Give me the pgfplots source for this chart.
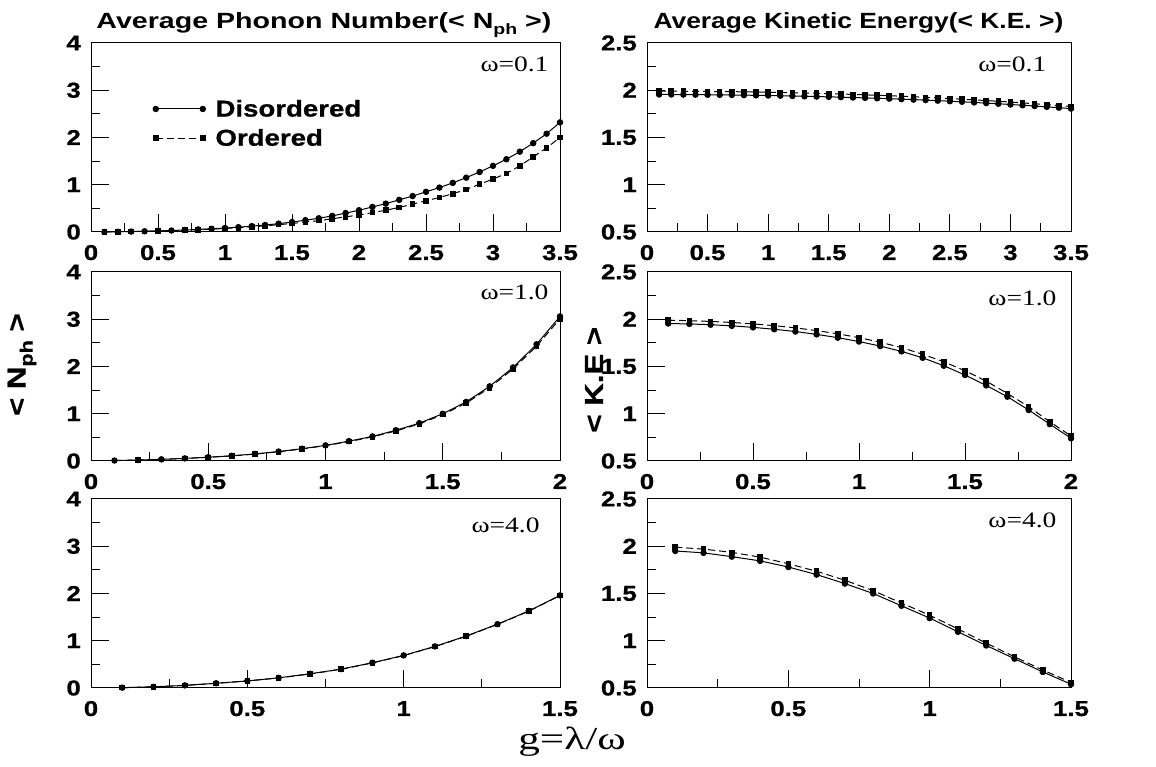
\documentclass[border=0pt]{standalone}
\usepackage{fontspec}
\usepackage{pgfplots}
\pgfplotsset{compat=1.18}
\newfontfamily\hv{Liberation Sans}[FakeStretch=1.2, BoldFeatures={FakeBold=0.8}]
\newfontfamily\hvt{Liberation Sans}[FakeStretch=1.3]
\newfontfamily\hvr{Liberation Sans}[FakeStretch=1.2]
\newfontfamily\tm{Liberation Serif}[FakeStretch=1.25]
\newfontfamily\tmx{Liberation Serif}[FakeStretch=1.35]

\pgfplotsset{
  panel/.style={
    scale only axis, width=#1, height=189pt, anchor=south west, clip=false,
    axis line style={line width=1pt},
    tick align=inside, xtick pos=bottom, ytick pos=left,
    major tick length=18pt, minor tick length=9pt,
    every tick/.style={black, line width=1pt},
    minor tick num=1, xmin=0,
    /pgf/number format/assume math mode=true,
    ticklabel style={font=\hv\bfseries\fontsize{21.5}{21.5}\selectfont, inner sep=0pt},
    xticklabel style={anchor=base, yshift=-28pt},
    yticklabel style={anchor=east, xshift=-10pt},
  },
  nleft/.style={ymin=0, ymax=4, ytick={0,1,2,3,4}},
  keright/.style={ymin=0.5, ymax=2.5, ytick={0.5,1,1.5,2,2.5}},
  dis/.style={black, line width=1pt, mark=*, mark size=2.7pt},
  ord/.style={black, line width=1pt, dash pattern=on 7pt off 4pt, mark=square*, mark size=2.3pt, mark options={solid}},
}
\newcommand{\omlab}[3]{\node[anchor=base east, font=\tm\fontsize{22}{22}\selectfont] at (rel axis cs:#1,#2) {#3};}

\begin{document}
\begin{tikzpicture}
\useasboundingbox (0,0) rectangle (1156pt,767pt);

% ---- top left: <N_ph>, omega=0.1
\begin{axis}[panel=469pt, nleft, at={(91pt,535pt)}, xmax=3.5, xtick={0,0.5,...,3.5},
  legend style={at={(rel axis cs:0.132,0.70)}, anchor=north west, draw=none, fill=none,
    inner sep=0pt, font=\hv\bfseries\fontsize{23}{23}\selectfont, row sep=11pt,
    nodes={inner sep=0pt}, column sep=10pt},
  legend cell align=left,
  legend image code/.code={\draw[#1] plot coordinates {(0pt,0pt) (47pt,0pt)};}]
\addplot[dis] coordinates {
(0.1,0.001) (0.2,0.004) (0.3,0.009) (0.4,0.015) (0.5,0.022) (0.6,0.031) (0.7,0.042)
(0.8,0.054) (0.9,0.068) (1.0,0.084) (1.1,0.102) (1.2,0.124) (1.3,0.148) (1.4,0.176)
(1.5,0.21) (1.6,0.25) (1.7,0.29) (1.8,0.34) (1.9,0.40) (2.0,0.46) (2.1,0.53)
(2.2,0.60) (2.3,0.68) (2.4,0.76) (2.5,0.85) (2.6,0.94) (2.7,1.04) (2.8,1.15)
(2.9,1.27) (3.0,1.40) (3.1,1.54) (3.2,1.70) (3.3,1.88) (3.4,2.08) (3.5,2.32)};
\addlegendentry{Disordered}
\addplot[ord] coordinates {
(0.1,0.001) (0.2,0.004) (0.3,0.008) (0.4,0.013) (0.5,0.020) (0.6,0.028) (0.7,0.037)
(0.8,0.048) (0.9,0.060) (1.0,0.075) (1.1,0.09) (1.2,0.11) (1.3,0.13) (1.4,0.155)
(1.5,0.18) (1.6,0.21) (1.7,0.24) (1.8,0.28) (1.9,0.32) (2.0,0.36) (2.1,0.41)
(2.2,0.46) (2.3,0.52) (2.4,0.59) (2.5,0.66) (2.6,0.73) (2.7,0.81) (2.8,0.90)
(2.9,1.01) (3.0,1.12) (3.1,1.24) (3.2,1.40) (3.3,1.59) (3.4,1.78) (3.5,2.00)};
\addlegendentry{Ordered}
\omlab{0.983}{0.847}{ω=0.1}
\node[anchor=base west, font=\hvt\bfseries\fontsize{22}{22}\selectfont] at (rel axis cs:0.004,1.079)
  {Average Phonon Number(< N\raisebox{-6pt}{\fontsize{15}{15}\selectfont ph} >)};
\end{axis}

% ---- top right: <K.E.>, omega=0.1
\begin{axis}[panel=424pt, keright, at={(647pt,535pt)}, xmax=3.5, xtick={0,0.5,...,3.5}]
\addplot[dis] coordinates {
(0.1,1.955) (0.2,1.955) (0.3,1.954) (0.4,1.953) (0.5,1.952) (0.6,1.951) (0.7,1.950)
(0.8,1.948) (0.9,1.946) (1.0,1.944) (1.1,1.942) (1.2,1.939) (1.3,1.936) (1.4,1.933)
(1.5,1.930) (1.6,1.927) (1.7,1.923) (1.8,1.919) (1.9,1.915) (2.0,1.911) (2.1,1.906)
(2.2,1.901) (2.3,1.896) (2.4,1.890) (2.5,1.884) (2.6,1.878) (2.7,1.871) (2.8,1.864)
(2.9,1.857) (3.0,1.849) (3.1,1.841) (3.2,1.833) (3.3,1.824) (3.4,1.815) (3.5,1.806)};
\addplot[ord] coordinates {
(0.1,1.990) (0.2,1.990) (0.3,1.989) (0.4,1.988) (0.5,1.987) (0.6,1.986) (0.7,1.985)
(0.8,1.983) (0.9,1.981) (1.0,1.979) (1.1,1.977) (1.2,1.974) (1.3,1.971) (1.4,1.968)
(1.5,1.964) (1.6,1.960) (1.7,1.956) (1.8,1.951) (1.9,1.947) (2.0,1.942) (2.1,1.937)
(2.2,1.931) (2.3,1.925) (2.4,1.919) (2.5,1.912) (2.6,1.905) (2.7,1.898) (2.8,1.891)
(2.9,1.883) (3.0,1.875) (3.1,1.866) (3.2,1.857) (3.3,1.848) (3.4,1.838) (3.5,1.828)};
\omlab{0.95}{0.847}{ω=0.1}
\node[anchor=base west, font=\hvr\bfseries\fontsize{22}{22}\selectfont] at (rel axis cs:0.007,1.079)
  {Average Kinetic Energy(< K.E. >)};
\end{axis}

% ---- middle left: omega=1.0
\begin{axis}[panel=469pt, nleft, at={(91pt,306pt)}, xmax=2, xtick={0,0.5,...,2}]
\addplot[dis] coordinates {
(0.1,0.01) (0.2,0.02) (0.3,0.035) (0.4,0.055) (0.5,0.08) (0.6,0.11) (0.7,0.15)
(0.8,0.20) (0.9,0.26) (1.0,0.33) (1.1,0.42) (1.2,0.52) (1.3,0.65) (1.4,0.80)
(1.5,1.00) (1.6,1.25) (1.7,1.58) (1.8,1.98) (1.9,2.47) (2.0,3.06)};
\addplot[ord] coordinates {
(0.1,0.01) (0.2,0.02) (0.3,0.034) (0.4,0.053) (0.5,0.078) (0.6,0.107) (0.7,0.145)
(0.8,0.195) (0.9,0.255) (1.0,0.325) (1.1,0.41) (1.2,0.51) (1.3,0.635) (1.4,0.785)
(1.5,0.98) (1.6,1.225) (1.7,1.55) (1.8,1.95) (1.9,2.43) (2.0,3.01)};
\omlab{0.983}{0.852}{ω=1.0}
\node[rotate=90, font=\hv\bfseries\fontsize{26}{26}\selectfont] at (rel axis cs:-0.147,0.51)
  {< N\raisebox{-7pt}{\fontsize{18}{18}\selectfont ph} >};
\end{axis}

% ---- middle right: omega=1.0
\begin{axis}[panel=424pt, keright, at={(647pt,306pt)}, xmax=2, xtick={0,0.5,...,2}]
\addplot[dis] coordinates {
(0.1,1.955) (0.2,1.950) (0.3,1.942) (0.4,1.930) (0.5,1.914) (0.6,1.894) (0.7,1.870)
(0.8,1.840) (0.9,1.805) (1.0,1.764) (1.1,1.716) (1.2,1.660) (1.3,1.592) (1.4,1.508)
(1.5,1.41) (1.6,1.30) (1.7,1.18) (1.8,1.04) (1.9,0.89) (2.0,0.74)};
\addplot[ord] coordinates {
(0.1,1.990) (0.2,1.985) (0.3,1.977) (0.4,1.966) (0.5,1.951) (0.6,1.932) (0.7,1.909)
(0.8,1.880) (0.9,1.846) (1.0,1.805) (1.1,1.757) (1.2,1.700) (1.3,1.630) (1.4,1.550)
(1.5,1.455) (1.6,1.345) (1.7,1.215) (1.8,1.075) (1.9,0.915) (2.0,0.765)};
\omlab{0.974}{0.825}{ω=1.0}
\node[rotate=90, font=\hv\bfseries\fontsize{26}{26}\selectfont] at (rel axis cs:-0.125,0.43)
  {< K.E >};
\end{axis}

% ---- bottom left: omega=4.0
\begin{axis}[panel=469pt, nleft, at={(91pt,79pt)}, xmax=1.5, xtick={0,0.5,...,1.5}]
\addplot[dis] coordinates {
(0.1,0.007) (0.2,0.025) (0.3,0.055) (0.4,0.10) (0.5,0.15) (0.6,0.215) (0.7,0.30)
(0.8,0.40) (0.9,0.535) (1.0,0.69) (1.1,0.88) (1.2,1.10) (1.3,1.35) (1.4,1.63) (1.5,1.96)};
\addplot[ord] coordinates {
(0.1,0.007) (0.2,0.024) (0.3,0.054) (0.4,0.098) (0.5,0.148) (0.6,0.212) (0.7,0.296)
(0.8,0.396) (0.9,0.53) (1.0,0.685) (1.1,0.875) (1.2,1.095) (1.3,1.345) (1.4,1.625) (1.5,1.955)};
\omlab{0.964}{0.825}{ω=4.0}
\end{axis}

% ---- bottom right: omega=4.0
\begin{axis}[panel=424pt, keright, at={(647pt,79pt)}, xmax=1.5, xtick={0,0.5,...,1.5}]
\addplot[dis] coordinates {
(0.1,1.95) (0.2,1.93) (0.3,1.89) (0.4,1.845) (0.5,1.78) (0.6,1.70) (0.7,1.605)
(0.8,1.50) (0.9,1.37) (1.0,1.24) (1.1,1.095) (1.2,0.95) (1.3,0.81) (1.4,0.67) (1.5,0.54)};
\addplot[ord] coordinates {
(0.1,1.99) (0.2,1.97) (0.3,1.935) (0.4,1.885) (0.5,1.815) (0.6,1.735) (0.7,1.64)
(0.8,1.53) (0.9,1.40) (1.0,1.27) (1.1,1.125) (1.2,0.975) (1.3,0.83) (1.4,0.69) (1.5,0.56)};
\omlab{0.974}{0.847}{ω=4.0}
\end{axis}

\node[anchor=base, font=\tmx\fontsize{32}{32}\selectfont] at (572pt,17pt) {g=λ/ω};
\end{tikzpicture}
\end{document}
